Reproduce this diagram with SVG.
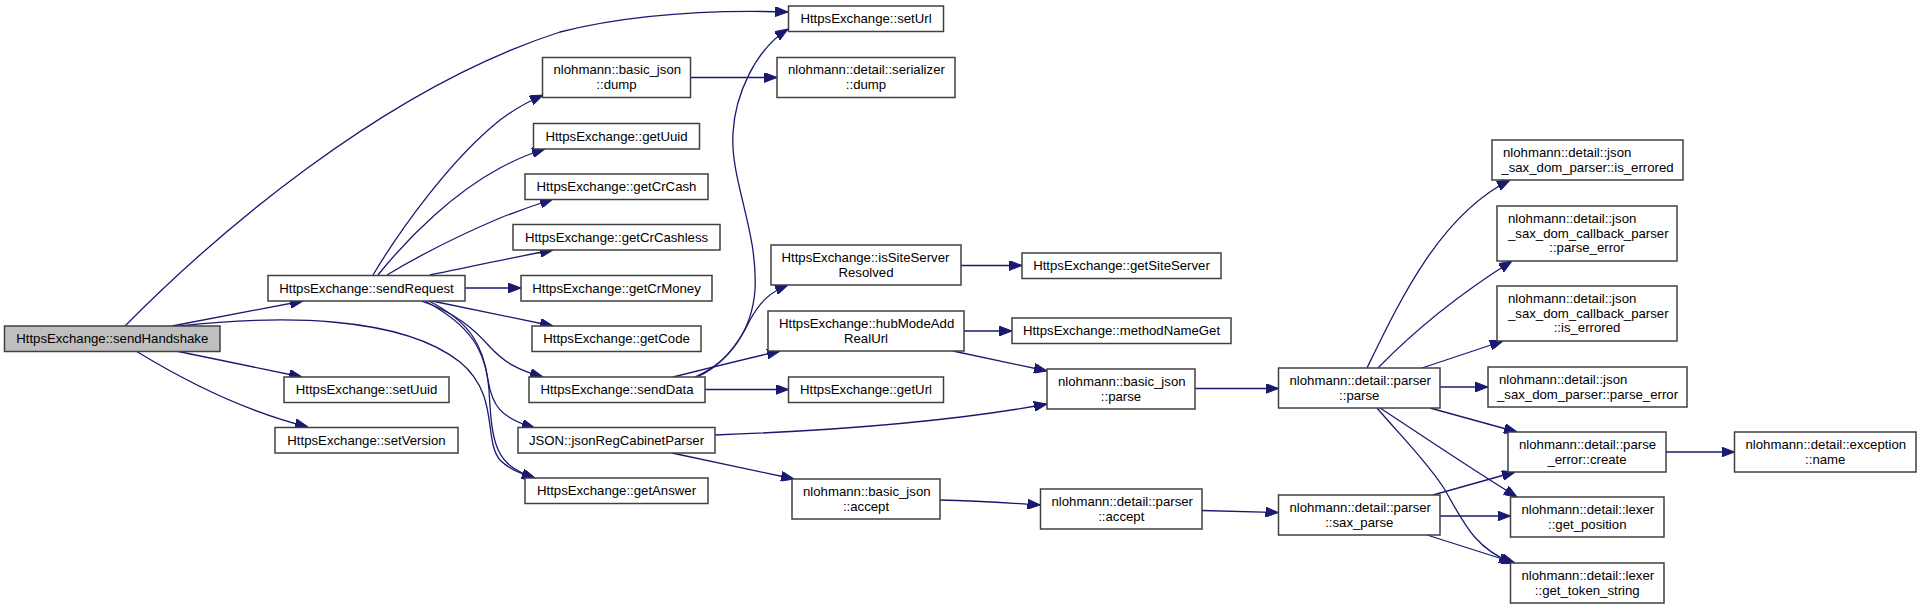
<svg xmlns="http://www.w3.org/2000/svg" width="1921" height="609" viewBox="0 0 1921 609">
<style>
.n rect{fill:#fff;stroke:#404040;stroke-width:1.5}
.n.root rect{fill:#bfbfbf}
.n text{font-family:"Liberation Sans",Arial,Helvetica,sans-serif;font-size:13.2px;fill:#000}
.c{text-anchor:middle}
.e path{fill:none;stroke:#191970;stroke-width:1.3;marker-end:url(#ah)}
</style>
<defs>
<marker id="ah" viewBox="0 0 13 10" refX="13" refY="5" markerWidth="13" markerHeight="10" markerUnits="userSpaceOnUse" orient="auto"><path d="M0,0 L13,5 L0,10 z" fill="#191970" stroke="#191970" stroke-width="1"/></marker>
</defs>
<rect width="1921" height="609" fill="#fff"/>
<g id="edges" class="e">
<path d="M125,326 C210,240 380,90 560,32 C640,12 720,10 788,12"/>
<path d="M172,326 C210,319 260,309 303,301"/>
<path d="M180,326 C280,315 400,315 460,362 C500,395 483,440 500,460 C510,470 522,474 535,478"/>
<path d="M176,351 L302,377"/>
<path d="M136,351 C180,378 240,410 308,427"/>
<path d="M373,275 C400,230 450,160 500,120 C512,111 525,103 543,95"/>
<path d="M378,275 C410,235 455,192 500,168 C515,160 528,154 545,149"/>
<path d="M387,275 C420,255 460,235 500,218 C518,211 535,205 553,199"/>
<path d="M430,275 C465,268 505,259 553,250"/>
<path d="M465.5,288 L521,288"/>
<path d="M432,301 L553,326"/>
<path d="M421,301 C455,312 475,330 490,347 C505,363 518,370 543,377"/>
<path d="M429,301 C470,322 483,345 488,380 C492,405 500,418 535,428"/>
<path d="M425,301 C470,325 486,350 489,390 C492,445 495,465 535,478"/>
<path d="M695,377 C730,362 752,330 755,290 C758,230 730,180 733,133 C735,95 755,50 788,29"/>
<path d="M697,377 C722,366 738,345 750,320 C760,302 770,292 788,285"/>
<path d="M673,377 C705,369 745,359 780,351"/>
<path d="M705,389.5 L788.5,389.5"/>
<path d="M715,435 C850,430 960,420 1047,404"/>
<path d="M672,453 L794,479"/>
<path d="M690.5,77.5 L777,77.5"/>
<path d="M961,265.5 L1022,265.5"/>
<path d="M964,331 L1012,331"/>
<path d="M953,351 L1047,371"/>
<path d="M940,500 C980,501 1010,503 1040.5,505"/>
<path d="M1195,388.5 L1278.5,388.5"/>
<path d="M1202,510.5 L1278.5,512.5"/>
<path d="M1367,368 C1400,300 1440,215 1510,180"/>
<path d="M1378,368 C1410,335 1450,300 1512,261"/>
<path d="M1422,368 L1503,341"/>
<path d="M1440,387 L1488,387"/>
<path d="M1430,408 L1517,432"/>
<path d="M1380,408 C1420,434 1465,465 1517,497"/>
<path d="M1377,408 C1400,435 1430,465 1445,490 C1465,525 1475,548 1512,563"/>
<path d="M1433,495 L1515,472"/>
<path d="M1440,516 L1510.5,516"/>
<path d="M1427,535 L1515,563"/>
<path d="M1666,452 L1734.5,452"/>
</g>
<g id="n0" class="n root"><rect x="4.5" y="326" width="215.5" height="25.5"/><text class="c" x="112.25" y="343">HttpsExchange::sendHandshake</text></g>
<g id="n1" class="n"><rect x="268" y="275.5" width="197" height="25.5"/><text class="c" x="366.5" y="292.5">HttpsExchange::sendRequest</text></g>
<g id="n2" class="n"><rect x="284" y="377" width="165" height="25.5"/><text class="c" x="366.5" y="394">HttpsExchange::setUuid</text></g>
<g id="n3" class="n"><rect x="275" y="427.5" width="183" height="25.5"/><text class="c" x="366.5" y="444.5">HttpsExchange::setVersion</text></g>
<g id="n4" class="n"><rect x="542.5" y="57.5" width="148" height="40"/><text x="553.5" y="74">nlohmann::basic_json</text><text class="c" x="616.5" y="89">::dump</text></g>
<g id="n5" class="n"><rect x="533.5" y="123.5" width="166" height="25.5"/><text class="c" x="616.5" y="140.5">HttpsExchange::getUuid</text></g>
<g id="n6" class="n"><rect x="525" y="174" width="183" height="25.5"/><text class="c" x="616.5" y="191">HttpsExchange::getCrCash</text></g>
<g id="n7" class="n"><rect x="513" y="224.5" width="207" height="25.5"/><text class="c" x="616.5" y="241.5">HttpsExchange::getCrCashless</text></g>
<g id="n8" class="n"><rect x="521" y="275.5" width="191" height="25.5"/><text class="c" x="616.5" y="292.5">HttpsExchange::getCrMoney</text></g>
<g id="n9" class="n"><rect x="532" y="326" width="169" height="25.5"/><text class="c" x="616.5" y="343">HttpsExchange::getCode</text></g>
<g id="n10" class="n"><rect x="529" y="377" width="176" height="25.5"/><text class="c" x="617" y="394">HttpsExchange::sendData</text></g>
<g id="n11" class="n"><rect x="518" y="427.5" width="197" height="25.5"/><text class="c" x="616.5" y="444.5">JSON::jsonRegCabinetParser</text></g>
<g id="n12" class="n"><rect x="525" y="478" width="183" height="25.5"/><text class="c" x="616.5" y="495">HttpsExchange::getAnswer</text></g>
<g id="n13" class="n"><rect x="788.5" y="6" width="155" height="25.5"/><text class="c" x="866" y="23">HttpsExchange::setUrl</text></g>
<g id="n14" class="n"><rect x="777" y="57.5" width="178" height="40"/><text x="788" y="74">nlohmann::detail::serializer</text><text class="c" x="866" y="89">::dump</text></g>
<g id="n15" class="n"><rect x="771" y="245" width="190" height="40"/><text x="781.5" y="261.5">HttpsExchange::isSiteServer</text><text class="c" x="866" y="276.5">Resolved</text></g>
<g id="n16" class="n"><rect x="768" y="311" width="196" height="40"/><text x="779" y="327.5">HttpsExchange::hubModeAdd</text><text class="c" x="866" y="342.5">RealUrl</text></g>
<g id="n17" class="n"><rect x="788.5" y="377" width="155" height="25.5"/><text class="c" x="866" y="394">HttpsExchange::getUrl</text></g>
<g id="n18" class="n"><rect x="792" y="479" width="148" height="40"/><text x="803" y="495.5">nlohmann::basic_json</text><text class="c" x="866" y="510.5">::accept</text></g>
<g id="n19" class="n"><rect x="1022" y="253" width="199" height="25.5"/><text class="c" x="1121.5" y="270">HttpsExchange::getSiteServer</text></g>
<g id="n20" class="n"><rect x="1012" y="318" width="219" height="25.5"/><text class="c" x="1121.5" y="335">HttpsExchange::methodNameGet</text></g>
<g id="n21" class="n"><rect x="1047" y="369" width="148" height="40"/><text x="1058" y="385.5">nlohmann::basic_json</text><text class="c" x="1121" y="400.5">::parse</text></g>
<g id="n22" class="n"><rect x="1040.5" y="489" width="161.5" height="40"/><text x="1051.5" y="505.5">nlohmann::detail::parser</text><text class="c" x="1121.25" y="520.5">::accept</text></g>
<g id="n23" class="n"><rect x="1278.5" y="368" width="161.5" height="40"/><text x="1289.5" y="384.5">nlohmann::detail::parser</text><text class="c" x="1359.25" y="399.5">::parse</text></g>
<g id="n24" class="n"><rect x="1278.5" y="495" width="161.5" height="40"/><text x="1289.5" y="511.5">nlohmann::detail::parser</text><text class="c" x="1359.25" y="526.5">::sax_parse</text></g>
<g id="n25" class="n"><rect x="1492" y="140" width="191" height="40"/><text x="1503" y="156.5">nlohmann::detail::json</text><text class="c" x="1587.5" y="171.5">_sax_dom_parser::is_errored</text></g>
<g id="n26" class="n"><rect x="1497" y="206" width="180" height="55"/><text x="1508" y="222.5">nlohmann::detail::json</text><text x="1508" y="237.5">_sax_dom_callback_parser</text><text class="c" x="1587" y="252">::parse_error</text></g>
<g id="n27" class="n"><rect x="1497" y="286" width="180" height="55"/><text x="1508" y="302.5">nlohmann::detail::json</text><text x="1508" y="317.5">_sax_dom_callback_parser</text><text class="c" x="1587" y="332">::is_errored</text></g>
<g id="n28" class="n"><rect x="1488" y="367" width="199" height="40"/><text x="1499" y="383.5">nlohmann::detail::json</text><text class="c" x="1587.5" y="398.5">_sax_dom_parser::parse_error</text></g>
<g id="n29" class="n"><rect x="1508" y="432" width="158" height="40"/><text x="1519" y="448.5">nlohmann::detail::parse</text><text class="c" x="1587" y="463.5">_error::create</text></g>
<g id="n30" class="n"><rect x="1510.5" y="497" width="153.5" height="40"/><text x="1521.5" y="513.5">nlohmann::detail::lexer</text><text class="c" x="1587.25" y="528.5">::get_position</text></g>
<g id="n31" class="n"><rect x="1510.5" y="563" width="153.5" height="40"/><text x="1521.5" y="579.5">nlohmann::detail::lexer</text><text class="c" x="1587.25" y="594.5">::get_token_string</text></g>
<g id="n32" class="n"><rect x="1734.5" y="432" width="181.5" height="40"/><text x="1745.5" y="448.5">nlohmann::detail::exception</text><text class="c" x="1825.25" y="463.5">::name</text></g>
</svg>
